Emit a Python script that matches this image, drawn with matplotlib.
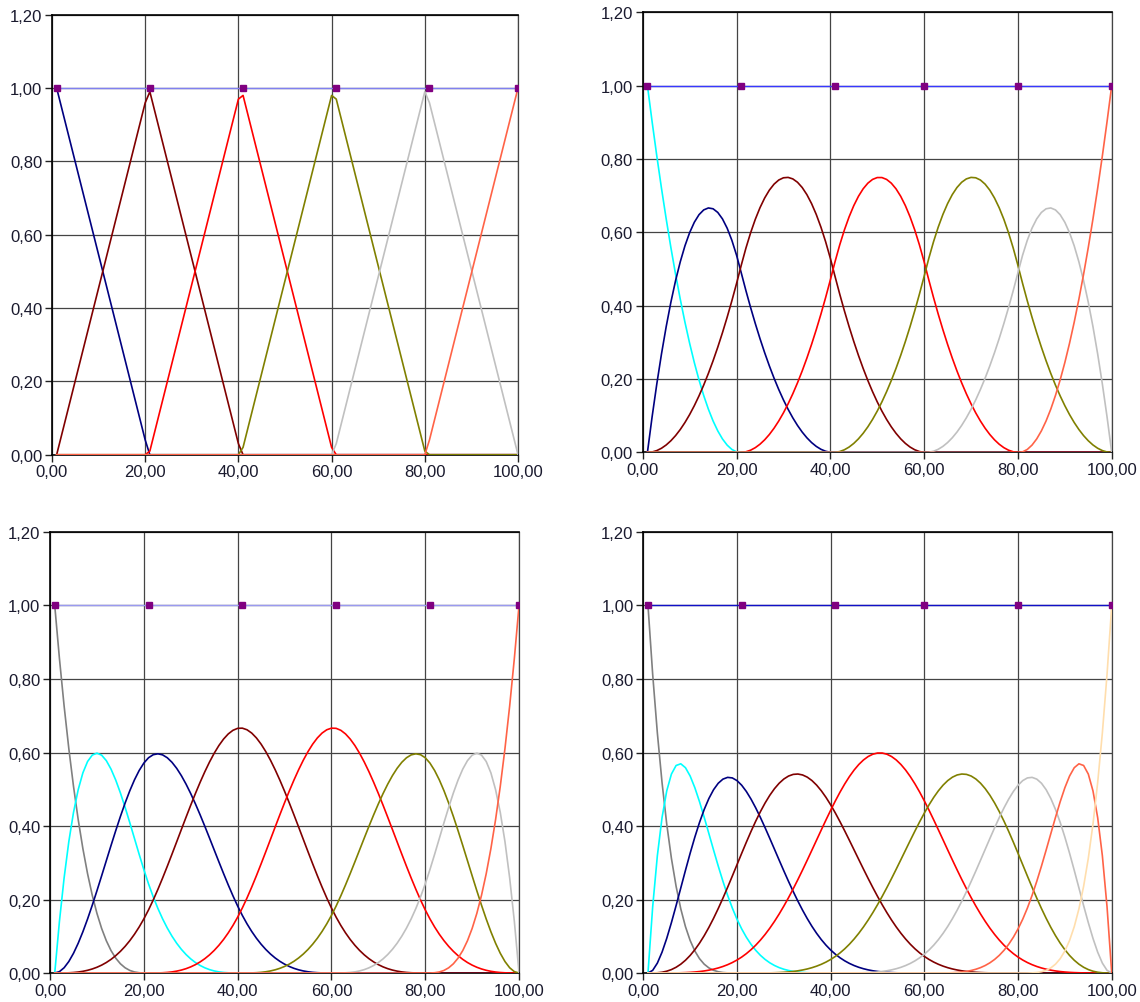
import numpy as np
import matplotlib
matplotlib.use("Agg")
import matplotlib.pyplot as plt
from matplotlib.ticker import FuncFormatter

plt.rcParams['font.family'] = ['Liberation Sans', 'DejaVu Sans']

# knots of the spline (clamped at both ends)
knots = [1.0, 20.8, 40.6, 60.4, 80.2, 100.0]
# sample positions (integer steps, as in the original)
x_samples = np.arange(1, 101)
degrees = [1, 2, 3, 4]

# purple squares on the 1,00 line, as they sit in each panel
marker_x = [
    [1, 21, 41, 61, 81, 100],
    [1, 21, 41, 60, 80, 100],
    [1, 21, 41, 61, 81, 100],
    [1, 21, 41, 60, 80, 100],
]

curve_colors = [
    ['#000080', '#800000', '#ff0000', '#808000', '#c0c0c0', '#ff6347'],
    ['#00ffff', '#000080', '#800000', '#ff0000', '#808000', '#c0c0c0', '#ff6347'],
    ['#808080', '#00ffff', '#000080', '#800000', '#ff0000', '#808000', '#c0c0c0', '#ff6347'],
    ['#808080', '#00ffff', '#000080', '#800000', '#ff0000', '#808000', '#c0c0c0', '#ff6347', '#ffdead'],
]
sum_colors = ['#8080f0', '#3838ff', '#9a9af0', '#1010c8']
marker_color = '#800080'

x_ticks = [0, 20, 40, 60, 80, 100]
y_ticks = [0.0, 0.2, 0.4, 0.6, 0.8, 1.0, 1.2]

# axes rectangles in figure fraction
positions = [
    [0.0456, 0.5456, 0.4088, 0.4388],
    [0.5638, 0.5479, 0.4114, 0.4389],
    [0.0439, 0.0289, 0.4114, 0.4397],
    [0.5643, 0.0289, 0.4109, 0.4397],
]


def basis(knot_vec, p, x):
    """Cox-de Boor recursion, returns array (n_basis, len(x))"""
    t = np.asarray(knot_vec, dtype=float)
    m = len(t) - 1
    N = np.zeros((m, len(x)))
    for i in range(m):
        if t[i] < t[i + 1]:
            N[i] = (x >= t[i]) & (x < t[i + 1])
            if t[i + 1] == t[-1]:
                N[i] = (x >= t[i]) & (x <= t[i + 1])
    for k in range(1, p + 1):
        newN = np.zeros((m - k, len(x)))
        for i in range(m - k):
            a = 0.0
            b = 0.0
            if t[i + k] != t[i]:
                a = (x - t[i]) / (t[i + k] - t[i]) * N[i]
            if t[i + k + 1] != t[i + 1]:
                b = (t[i + k + 1] - x) / (t[i + k + 1] - t[i + 1]) * N[i + 1]
            newN[i] = a + b
        N = newN
    return N


fmt = FuncFormatter(lambda v, pos: f"{v:.2f}".replace('.', ','))

fig = plt.figure(figsize=(11.4, 10.03), dpi=100)

for idx, p in enumerate(degrees):
    ax = fig.add_axes(positions[idx])
    kv = [knots[0]] * p + knots + [knots[-1]] * p
    N = basis(kv, p, x_samples.astype(float))

    for j in range(N.shape[0]):
        ax.plot(x_samples, N[j], color=curve_colors[idx][j], lw=1.2, zorder=3)

    total = N.sum(axis=0)
    ax.plot(x_samples, total, color=sum_colors[idx], lw=1.0, zorder=4)
    ax.plot(marker_x[idx], np.ones(len(marker_x[idx])), ls='none', marker='s',
            ms=4, color=marker_color, zorder=5)

    ax.set_xlim(0, 100)
    ax.set_ylim(0, 1.2)
    ax.set_xticks(x_ticks)
    ax.set_yticks(y_ticks)
    ax.xaxis.set_major_formatter(fmt)
    ax.yaxis.set_major_formatter(fmt)
    ax.tick_params(labelsize=12, length=5, width=1, direction='out',
                   colors='#222222', pad=2)
    ax.grid(True, color='#444444', lw=0.9)
    ax.set_axisbelow(True)
    for side in ['left', 'bottom', 'top']:
        ax.spines[side].set_color('black')
        ax.spines[side].set_linewidth(1.2)
    ax.spines['right'].set_color('#444444')
    ax.spines['right'].set_linewidth(0.9)
    for lab in ax.get_xticklabels() + ax.get_yticklabels():
        lab.set_color('#1a1a2e')

fig.savefig("out.png", dpi=100, facecolor='white')
